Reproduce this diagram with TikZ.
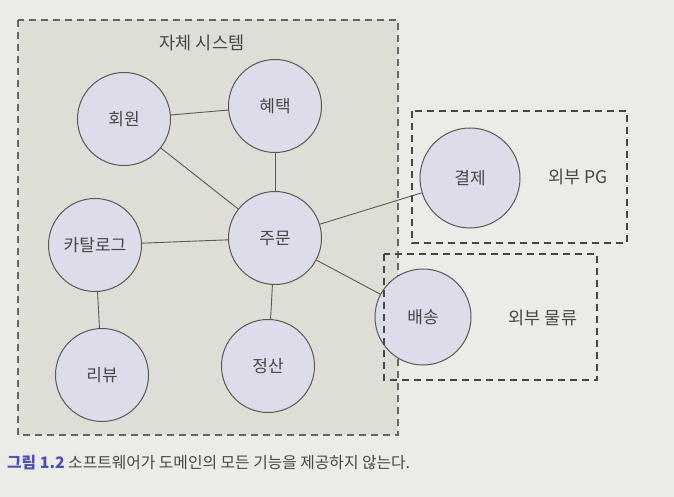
\documentclass[tikz,border=0pt]{standalone}
\usepackage{fontspec}
\setmainfont{Noto Sans CJK KR}
\definecolor{pagebg}{HTML}{EBEBE7}
\definecolor{sysfill}{HTML}{DEDED6}
\definecolor{nodefill}{HTML}{DCDCEA}
\definecolor{edgecol}{HTML}{5A5A55}
\definecolor{txtcol}{HTML}{474747}
\definecolor{capblue}{HTML}{4E4EB4}
\tikzset{
  dom/.style={circle, draw=edgecol, line width=1pt, fill=nodefill, minimum size=93pt, inner sep=0pt, font=\fontsize{17}{19}\selectfont, text=txtcol},
  link/.style={draw=edgecol, line width=0.9pt},
  dbox/.style={draw=txtcol, line width=1.3pt, dash pattern=on 7pt off 5pt},
  lbl/.style={font=\fontsize{17.5}{20}\selectfont, text=txtcol, inner sep=0pt}
}
\begin{document}
\begin{tikzpicture}[x=1pt,y=-1pt]
\useasboundingbox (0,0) rectangle (674,497);
\fill[pagebg] (0,0) rectangle (674,497);
% own system box
\path[fill=sysfill] (18,20) rectangle (398,435);
\draw[dbox, draw=gray!80!black, line width=1.1pt] (18,20) rectangle (398,435);
\node[lbl] (title) at (202,43) {자체 시스템};
% nodes
\node[dom] (member) at (124,119) {회원};
\node[dom] (benefit) at (275,106) {혜택};
\node[dom] (order) at (275,238) {주문};
\node[dom] (catalog) at (95,245) {카탈로그};
\node[dom] (review) at (102,375) {리뷰};
\node[dom] (settle) at (268,366) {정산};
\node[dom, minimum size=100pt] (pay) at (470,178) {결제};
\node[dom, minimum size=96pt] (ship) at (423,317) {배송};
% links
\path[link] (member) -- (benefit);
\path[link] (member) -- (order);
\path[link] (benefit) -- (order);
\path[link] (catalog) -- (order);
\path[link] (catalog) -- (review);
\path[link] (order) -- (settle);
\path[link] (order) -- (pay);
\path[link] (order) -- (ship);
% external boxes
\draw[dbox] (412,111) rectangle (627,243);
\node[lbl] (pgl) at (578,177) {외부 PG};
\draw[dbox] (384,254) rectangle (597,380);
\node[lbl] (lgl) at (543,318) {외부 물류};
% caption
\node[anchor=west, inner sep=0pt, font=\fontsize{15.8}{18}\selectfont] (cap) at (7,463) {\textcolor{capblue}{\textbf{그림 1.2}}\ \textcolor{txtcol}{소프트웨어가 도메인의 모든 기능을 제공하지 않는다.}};
\end{tikzpicture}
\end{document}
